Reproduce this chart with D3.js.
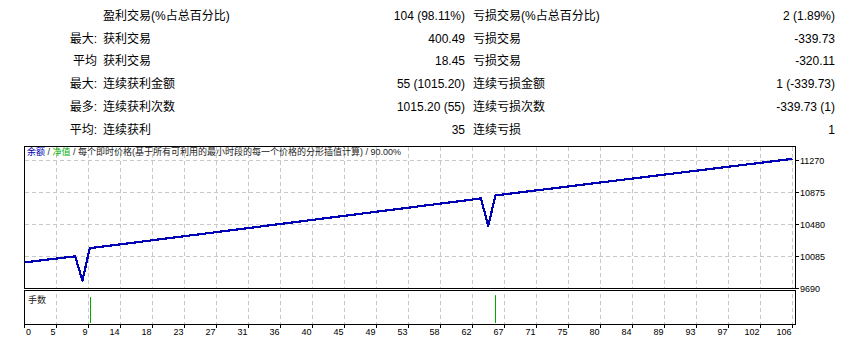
<!DOCTYPE html>
<html>
<head>
<meta charset="utf-8">
<script src="https://cdn.jsdelivr.net/npm/d3@7/dist/d3.min.js"></script>
<style>
  body { margin: 0; background: #fff; }
  svg { display: block; }
</style>
</head>
<body>
<svg id="chart" width="852" height="346"></svg>
<script>
// summary table
const rowPrefixes = ['', '最大:', '平均', '最大:', '最多:', '平均:'];
const profitLabels = ['盈利交易(%占总百分比)', '获利交易', '获利交易', '连续获利金额', '连续获利次数', '连续获利'];
const profitValues = ['104 (98.11%)', '400.49', '18.45', '55 (1015.20)', '1015.20 (55)', '35'];
const lossLabels = ['亏损交易(%占总百分比)', '亏损交易', '亏损交易', '连续亏损金额', '连续亏损次数', '连续亏损'];
const lossValues = ['2 (1.89%)', '-339.73', '-320.11', '1 (-339.73)', '-339.73 (1)', '1'];

// balance curve
const initialBalance = 10000;
const tradeProfits = [
  10.52, 11.20, 10.85, 10.31, 11.04, 10.62, 10.46,
  -300.49, 400.49,
  11.42, 10.96, 11.75, 11.20, 11.58, 10.88, 11.63, 11.31, 11.49, 11.12,
  11.67, 11.05, 11.38, 11.81, 10.94, 11.46, 11.27, 11.59, 11.13, 11.72,
  11.24, 11.53, 10.99, 11.66, 11.35, 11.18, 11.77, 11.02, 11.44, 11.61,
  11.29, 11.84, 11.07, 11.40, 11.56, 10.91, 11.69, 11.33, 11.15, 11.52,
  11.36, 11.71, 11.09, 11.48, 11.22, 11.64, 11.01, 11.55, 11.30, 11.43,
  11.58, 11.26, 11.69, 11.48,
  -339.73, 376.80,
  10.84, 11.21, 10.67, 11.05, 10.93, 11.32, 10.76, 11.14, 10.88, 11.09,
  11.27, 10.71, 11.03, 10.95, 11.18, 10.82, 11.36, 10.90, 11.07, 10.79,
  11.12, 10.86, 11.24, 10.97, 10.73, 11.30, 11.01, 10.92, 11.16, 10.80,
  11.06, 10.89, 11.19, 10.75, 11.28, 10.98, 10.85, 11.13, 11.00, 10.94,
  11.65
];

// lots pane
const lotTrades = [9, 65];
const lotSizes = [0.40, 0.43];

// axes
const xTickLabels = [0, 5, 9, 14, 18, 23, 27, 31, 36, 40, 45, 49, 53, 58, 62, 67, 71, 75, 80, 84, 89, 93, 97, 102, 106];
const yTickValues = [9690, 10085, 10480, 10875, 11270];

const legendText = '每个即时价格(基于所有可利用的最小时段的每一个价格的分形插值计算)';
const legendPercent = '90.00%';

const svg = d3.select('#chart');
const cjk = '"Liberation Sans", "Noto Sans CJK SC", sans-serif';

// ---- table ----
const rowY = d3.scaleLinear().domain([0, 5]).range([15.5, 129.5]);
const table = svg.append('g')
  .attr('font-family', cjk)
  .attr('font-size', 12)
  .attr('fill', '#000');

const rows = table.selectAll('g.row')
  .data(d3.range(rowPrefixes.length))
  .join('g')
  .attr('class', 'row')
  .attr('transform', i => `translate(0,${rowY(i)})`);

rows.append('text').attr('x', 97).attr('text-anchor', 'end').attr('dy', '0.35em').text(i => rowPrefixes[i]);
rows.append('text').attr('x', 103).attr('dy', '0.35em').text(i => profitLabels[i]);
rows.append('text').attr('x', 465).attr('text-anchor', 'end').attr('dy', '0.35em').text(i => profitValues[i]);
rows.append('text').attr('x', 473).attr('dy', '0.35em').text(i => lossLabels[i]);
rows.append('text').attr('x', 835).attr('text-anchor', 'end').attr('dy', '0.35em').text(i => lossValues[i]);

// ---- chart frame ----
const left = 24.5, right = 795.5;
const mainTop = 146.5, mainBottom = 288.5;
const subTop = 290.5, subBottom = 324.5;
const gridRight = 792.5;

const balances = [initialBalance].concat(Array.from(d3.cumsum(tradeProfits), v => initialBalance + v));

const xTrade = d3.scaleLinear().domain([0, tradeProfits.length]).range([left, gridRight]);
const xGrid = d3.scaleLinear().domain([0, xTickLabels.length - 1]).range([left, gridRight]);
const yBal = d3.scaleLinear().domain([9690, 11270]).range([287.5, 159.5]);
const yLot = d3.scaleLinear().domain([0, 0.5]).range([subBottom - 1, subBottom - 34]);

const grid = svg.append('g')
  .attr('stroke', '#c8c8c8')
  .attr('stroke-dasharray', '4,3')
  .attr('shape-rendering', 'crispEdges');

grid.selectAll('line.vx')
  .data(d3.range(1, xTickLabels.length))
  .join('line')
  .attr('class', 'vx')
  .attr('x1', k => xGrid(k)).attr('x2', k => xGrid(k))
  .attr('y1', mainTop).attr('y2', subBottom);

grid.selectAll('line.hy')
  .data(yTickValues.slice(1))
  .join('line')
  .attr('class', 'hy')
  .attr('x1', left).attr('x2', right)
  .attr('y1', d => Math.round(yBal(d)) + 0.5)
  .attr('y2', d => Math.round(yBal(d)) + 0.5);

// separator gap between panes
svg.append('rect')
  .attr('x', left + 0.5).attr('y', mainBottom + 0.5)
  .attr('width', right - left - 1).attr('height', subTop - mainBottom - 1)
  .attr('fill', '#fff');

// balance line
svg.append('path')
  .datum(balances)
  .attr('fill', 'none')
  .attr('stroke', '#0000b4')
  .attr('stroke-width', 2.2)
  .attr('stroke-linejoin', 'round')
  .attr('shape-rendering', 'crispEdges')
  .attr('d', d3.line()
    .x((d, i) => xTrade(i))
    .y(d => yBal(d)));

// lots bars
svg.append('g')
  .selectAll('line')
  .data(lotTrades)
  .join('line')
  .attr('x1', t => Math.round(xTrade(t)) + 0.5)
  .attr('x2', t => Math.round(xTrade(t)) + 0.5)
  .attr('y1', subBottom - 1.5)
  .attr('y2', (t, i) => yLot(lotSizes[i]))
  .attr('stroke', '#00a800')
  .attr('stroke-width', 1);

// pane borders
const frame = svg.append('g')
  .attr('fill', 'none')
  .attr('stroke', '#000')
  .attr('shape-rendering', 'crispEdges');
frame.append('rect').attr('x', left).attr('y', mainTop).attr('width', right - left).attr('height', mainBottom - mainTop);
frame.append('rect').attr('x', left).attr('y', subTop).attr('width', right - left).attr('height', subBottom - subTop);

// right axis
const yAxis = svg.append('g')
  .attr('font-family', '"Liberation Sans", sans-serif')
  .attr('font-size', 9);
yAxis.selectAll('line')
  .data(yTickValues)
  .join('line')
  .attr('x1', right).attr('x2', right + 3)
  .attr('y1', d => Math.round(yBal(d)) + 0.5)
  .attr('y2', d => Math.round(yBal(d)) + 0.5)
  .attr('stroke', '#000')
  .attr('shape-rendering', 'crispEdges');
yAxis.selectAll('text')
  .data(yTickValues)
  .join('text')
  .attr('x', 800)
  .attr('y', d => yBal(d) + 4.2)
  .attr('fill', '#000')
  .text(d => d);

// bottom axis
const xAxis = svg.append('g')
  .attr('font-family', '"Liberation Sans", sans-serif')
  .attr('font-size', 9);
xAxis.selectAll('line')
  .data(d3.range(xTickLabels.length))
  .join('line')
  .attr('x1', k => xGrid(k)).attr('x2', k => xGrid(k))
  .attr('y1', subBottom).attr('y2', subBottom + 3)
  .attr('stroke', '#000')
  .attr('shape-rendering', 'crispEdges');
xAxis.selectAll('text')
  .data(d3.range(xTickLabels.length))
  .join('text')
  .attr('x', k => k === 0 ? xGrid(k) + 1.5 : xGrid(k) - 1)
  .attr('y', 334.5)
  .attr('text-anchor', k => k === 0 ? 'start' : 'end')
  .attr('fill', '#000')
  .text(k => xTickLabels[k]);

// legend
const legend = svg.append('text')
  .attr('x', 27)
  .attr('y', 155)
  .attr('font-family', '"Liberation Sans", "Noto Sans CJK SC", sans-serif')
  .attr('font-size', 9)
  .attr('fill', '#222');
legend.append('tspan').attr('fill', '#0000b4').text('余额');
legend.append('tspan').text(' / ');
legend.append('tspan').attr('fill', '#00b000').text('净值');
legend.append('tspan').text(` / ${legendText} / ${legendPercent}`);

svg.append('text')
  .attr('x', 28)
  .attr('y', 303)
  .attr('font-family', '"Noto Sans CJK SC", sans-serif')
  .attr('font-size', 9)
  .attr('fill', '#222')
  .text('手数');
</script>
</body>
</html>
